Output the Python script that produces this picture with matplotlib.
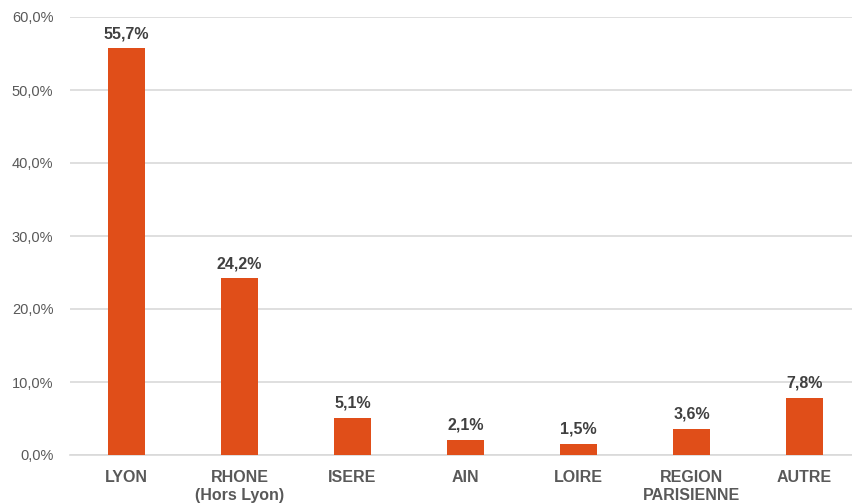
import matplotlib.pyplot as plt
import numpy as np

plt.rcParams['font.family'] = ['Liberation Sans', 'DejaVu Sans']

# origine géographique
categories = ['LYON', 'RHONE\n(Hors Lyon)', 'ISERE', 'AIN', 'LOIRE',
              'REGION\nPARISIENNE', 'AUTRE']
values = [55.7, 24.2, 5.1, 2.1, 1.5, 3.6, 7.8]
yticks = [0, 10, 20, 30, 40, 50, 60]

fig = plt.figure(figsize=(8.52, 5.04), dpi=100)
ax = fig.add_axes([70 / 852, 1 - 455 / 504, 1 - 70 / 852, 438 / 504])

x = np.arange(len(categories))
bars = ax.bar(x, values, width=0.32, color='#E04E19', zorder=3)

for xi, v in zip(x, values):
    ax.text(xi, v + 1.0, f'{v:.1f}%'.replace('.', ','), ha='center',
            va='bottom', fontsize=11.5, fontweight='bold', color='#404040')

ax.set_xlim(-0.5, 6.42)
ax.set_ylim(0, 60)
ax.set_yticks(yticks)
ax.set_yticklabels([f'{t:.1f}%'.replace('.', ',') for t in yticks],
                   fontsize=10.5, color='#595959')
ax.set_xticks(x)
ax.set_xticklabels(categories, fontsize=11.5, fontweight='bold',
                   color='#595959', linespacing=1.2)
ax.tick_params(axis='both', length=0)
ax.tick_params(axis='x', pad=11)
ax.tick_params(axis='y', pad=12)
ax.grid(axis='y', color='#D9D9D9', linewidth=1.2, zorder=0)
for s in ['top', 'right', 'left']:
    ax.spines[s].set_visible(False)
ax.spines['bottom'].set_color('#D9D9D9')
ax.spines['bottom'].set_linewidth(1.2)

fig.savefig('out.png', dpi=100)
